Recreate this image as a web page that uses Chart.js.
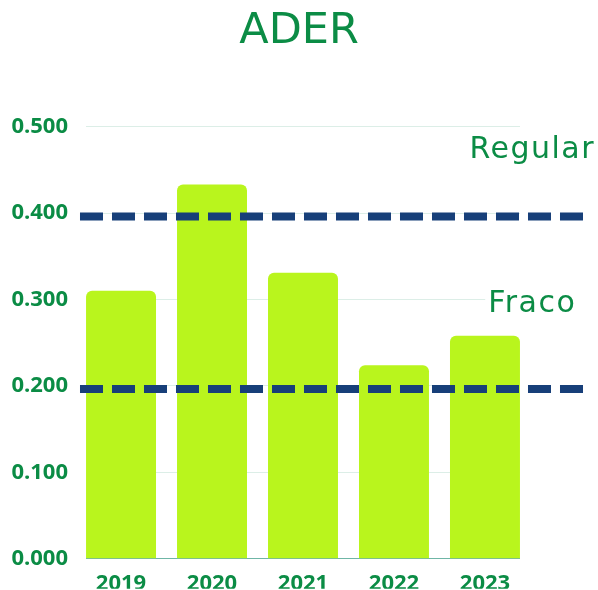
<!DOCTYPE html>
<html lang="pt">
<head>
    <meta charset="UTF-8">
    <title>ADER</title>
    <script src="https://cdn.jsdelivr.net/npm/chart.js@4.4.0/dist/chart.umd.min.js"></script>
    <style>
        html, body { margin: 0; padding: 0; background: #ffffff; }
        .chart-box { position: relative; width: 598px; height: 590px; }
    </style>
</head>
<body>
    <div class="chart-box">
        <canvas id="aderChart"></canvas>
    </div>
    <script>
        // data
        const years = ['2019', '2020', '2021', '2022', '2023'];
        const aderValues = [0.310, 0.433, 0.331, 0.224, 0.258];
        const yTicks = [0, 0.1, 0.2, 0.3, 0.4, 0.5];
        const limitNames = ['Regular', 'Fraco'];
        const limitValues = [0.396, 0.1965];
        const limitLabelY = [0.473, 0.294];

        const green = '#0b8c45';
        const navy = '#173f79';
        const lime = '#b9f51d';

        // reference lines run past the plot on both sides
        const lineStart = -0.451;
        const lineEnd = 5.099;

        const limitDatasets = limitValues.map((v, i) => ({
            type: 'line',
            label: limitNames[i],
            data: [{ x: lineStart, y: v }, { x: lineEnd, y: v }],
            borderColor: navy,
            borderWidth: 8,
            borderDash: [23, 9],
            borderCapStyle: 'butt',
            pointRadius: 0,
            clip: false,
            order: 1
        }));

        // "Regular" / "Fraco" labels on the right, with a white box behind
        const limitLabels = {
            id: 'limitLabels',
            afterDraw(chart) {
                const ctx = chart.ctx;
                const xs = chart.scales.x;
                const ys = chart.scales.y;
                ctx.save();
                ctx.font = '30px "DejaVu Sans"';
                ctx.letterSpacing = '1.5px';
                ctx.textAlign = 'center';
                ctx.textBaseline = 'middle';
                limitNames.forEach((name, i) => {
                    const x = xs.getPixelForValue(4.52);
                    const y = ys.getPixelForValue(limitLabelY[i]);
                    const w = ctx.measureText(name).width;
                    ctx.fillStyle = '#ffffff';
                    ctx.fillRect(x - w / 2 - 3, y - 16, w + 6, 32);
                    ctx.fillStyle = green;
                    ctx.fillText(name, x, y);
                });
                ctx.restore();
            }
        };

        new Chart(document.getElementById('aderChart'), {
            type: 'bar',
            data: {
                datasets: [{
                    label: 'ADER',
                    data: aderValues.map((v, i) => ({ x: i, y: v })),
                    backgroundColor: lime,
                    borderRadius: 6,
                    borderSkipped: 'bottom',
                    barPercentage: 0.769,
                    categoryPercentage: 1,
                    order: 2
                }, ...limitDatasets]
            },
            options: {
                responsive: true,
                maintainAspectRatio: false,
                animation: false,
                layout: { padding: 0 },
                plugins: {
                    legend: { display: false },
                    tooltip: { enabled: false },
                    title: {
                        display: true,
                        text: 'ADER',
                        color: green,
                        font: { family: 'DejaVu Sans', size: 43, weight: 'normal', lineHeight: 1.2 },
                        padding: { top: 6, bottom: 69 }
                    }
                },
                scales: {
                    x: {
                        type: 'linear',
                        offset: false,
                        min: -0.385,
                        max: 4.385,
                        grid: { display: false },
                        border: { display: false },
                        ticks: {
                            stepSize: 1,
                            includeBounds: false,
                            autoSkip: false,
                            maxRotation: 0,
                            padding: 4,
                            color: green,
                            font: { family: 'Open Sans', size: 22, weight: 'bold' },
                            callback: (v) => years[v] ?? ''
                        },
                        afterFit: (scale) => { scale.height = 30; }
                    },
                    y: {
                        min: 0,
                        max: 0.5,
                        afterBuildTicks: (scale) => { scale.ticks = yTicks.map(v => ({ value: v })); },
                        grid: {
                            drawTicks: false,
                            lineWidth: 1,
                            color: (c) => c.tick.value === 0 ? '#6fb6a6' : '#dceee7'
                        },
                        border: { display: false },
                        ticks: {
                            padding: 18,
                            color: green,
                            font: { family: 'Open Sans', size: 22, weight: 'bold' },
                            callback: (v) => v.toFixed(3)
                        },
                        afterFit: (scale) => { scale.width = 86; }
                    },
                    // empty right-hand strip where the labels sit
                    yRight: {
                        position: 'right',
                        min: 0,
                        max: 0.5,
                        grid: { display: false },
                        border: { display: false },
                        ticks: { display: false },
                        afterFit: (scale) => { scale.width = 78; }
                    }
                }
            },
            plugins: [limitLabels]
        });
    </script>
</body>
</html>
